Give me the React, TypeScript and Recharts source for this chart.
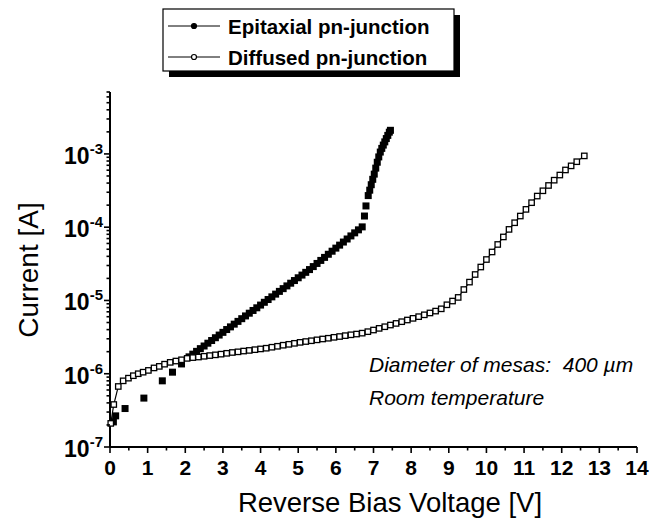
import { ScatterChart, Scatter, XAxis, YAxis } from "recharts";

// Epitaxial pn-junction (filled squares)
const epiVoltage = [
  0.09, 0.15, 0.4, 0.9, 1.39, 1.66, 1.9,
  2.1, 2.2, 2.3, 2.4, 2.5, 2.6, 2.7, 2.8, 2.9, 3.0,
  3.1, 3.2, 3.3, 3.4, 3.5, 3.6, 3.7, 3.8, 3.9, 4.0,
  4.1, 4.2, 4.3, 4.4, 4.5, 4.6, 4.7, 4.8, 4.9, 5.0,
  5.1, 5.2, 5.3, 5.4, 5.5, 5.6, 5.7, 5.8, 5.9, 6.0,
  6.1, 6.2, 6.3, 6.4, 6.5, 6.6, 6.7,
  6.76, 6.8, 6.86, 6.9, 6.94, 6.98, 7.02, 7.06, 7.1, 7.14,
  7.18, 7.22, 7.26, 7.3, 7.34, 7.38, 7.42, 7.45,
];
const epiCurrent = [
  2.2e-7, 2.66e-7, 3.35e-7, 4.65e-7, 8.0e-7, 1.05e-6, 1.36e-6,
  1.7e-6, 1.85e-6, 2.02e-6, 2.2e-6, 2.39e-6, 2.61e-6, 2.84e-6, 3.1e-6, 3.37e-6, 3.67e-6,
  4.01e-6, 4.36e-6, 4.75e-6, 5.18e-6, 5.64e-6, 6.15e-6, 6.7e-6, 7.3e-6, 7.94e-6, 8.65e-6,
  9.44e-6, 1.03e-5, 1.12e-5, 1.22e-5, 1.33e-5, 1.45e-5, 1.58e-5, 1.72e-5, 1.87e-5, 2.04e-5,
  2.22e-5, 2.42e-5, 2.64e-5, 2.9e-5, 3.2e-5, 3.52e-5, 3.87e-5, 4.27e-5, 4.7e-5, 5.18e-5,
  5.69e-5, 6.27e-5, 6.9e-5, 7.6e-5, 8.37e-5, 9.2e-5, 1.01e-4,
  1.42e-4, 1.95e-4, 2.7e-4, 3.2e-4, 3.8e-4, 4.5e-4, 5.3e-4, 6.4e-4, 7.7e-4, 9.1e-4,
  1.06e-3, 1.19e-3, 1.32e-3, 1.46e-3, 1.62e-3, 1.79e-3, 1.98e-3, 2.1e-3,
];

// Diffused pn-junction (open squares with line)
const difVoltage = [
  0.02, 0.1, 0.22, 0.35, 0.49, 0.62, 0.75, 0.88, 1.02, 1.17, 1.31,
  1.45, 1.6, 1.75, 1.9, 2.05, 2.2, 2.35, 2.5, 2.65, 2.8, 2.95, 3.1, 3.25,
  3.4, 3.55, 3.7, 3.85, 4.0, 4.15, 4.3, 4.45, 4.6, 4.75, 4.9, 5.05,
  5.2, 5.35, 5.5, 5.65, 5.8, 5.95, 6.1, 6.25, 6.4, 6.55, 6.7, 6.85,
  7.0, 7.15, 7.3, 7.45, 7.6, 7.75, 7.9, 8.05, 8.2, 8.35, 8.5, 8.65,
  8.8, 8.95, 9.1, 9.25, 9.4, 9.55, 9.7, 9.85, 10.0, 10.15, 10.3, 10.45,
  10.6, 10.75, 10.9, 11.05, 11.2, 11.35, 11.5, 11.65, 11.8, 11.95, 12.1,
  12.25, 12.4, 12.6,
];
const difCurrent = [
  2.1e-7, 3.8e-7, 6.7e-7, 8.0e-7, 8.7e-7, 9.4e-7, 1.0e-6, 1.05e-6, 1.11e-6, 1.2e-6, 1.26e-6,
  1.35e-6, 1.43e-6, 1.49e-6, 1.55e-6, 1.62e-6, 1.66e-6, 1.69e-6, 1.73e-6, 1.77e-6, 1.81e-6, 1.85e-6, 1.9e-6, 1.95e-6,
  1.99e-6, 2.04e-6, 2.08e-6, 2.13e-6, 2.18e-6, 2.23e-6, 2.3e-6, 2.37e-6, 2.45e-6, 2.52e-6, 2.6e-6, 2.68e-6,
  2.75e-6, 2.82e-6, 2.9e-6, 2.98e-6, 3.05e-6, 3.14e-6, 3.22e-6, 3.31e-6, 3.4e-6, 3.48e-6, 3.58e-6, 3.75e-6,
  3.95e-6, 4.16e-6, 4.38e-6, 4.62e-6, 4.86e-6, 5.13e-6, 5.41e-6, 5.7e-6, 6.01e-6, 6.37e-6, 6.75e-6, 7.16e-6,
  7.69e-6, 8.73e-6, 9.82e-6, 1.1e-5, 1.41e-5, 1.78e-5, 2.26e-5, 2.86e-5, 3.62e-5, 4.59e-5, 5.81e-5, 7.36e-5,
  9.33e-5, 1.15e-4, 1.42e-4, 1.75e-4, 2.16e-4, 2.66e-4, 3.14e-4, 3.71e-4, 4.38e-4, 5.15e-4, 6.04e-4,
  6.87e-4, 7.83e-4, 9.4e-4,
];

const seriesNames = ["Epitaxial pn-junction", "Diffused pn-junction"];
const voltageTicks = [0, 1, 2, 3, 4, 5, 6, 7, 8, 9, 10, 11, 12, 13, 14];
const currentDecades = [1e-7, 1e-6, 1e-5, 1e-4, 1e-3];
const notes = ["Diameter of mesas:  400 \u00b5m", "Room temperature"];

const FONT = "'Liberation Sans', Arial, Helvetica, sans-serif";

const epiData = epiVoltage.map((v, i) => ({ x: v, y: epiCurrent[i] }));
const difData = difVoltage.map((v, i) => ({ x: v, y: difCurrent[i] }));

const xTicks = [...voltageTicks, ...voltageTicks.slice(0, -1).map((v) => v + 0.5)].sort((a, b) => a - b);
const yTicks = [
  ...currentDecades,
  ...currentDecades.flatMap((d) => [2, 3, 4, 5, 6, 7, 8, 9].map((m) => m * d)).filter((v) => v <= 7e-3),
];

const isMajorY = (v: number) => currentDecades.some((d) => Math.abs(v - d) < d * 1e-6);

function VoltageTick({ x, y, payload }: any) {
  const v = payload.value;
  const major = Number.isInteger(v);
  return (
    <g>
      <line x1={x} x2={x} y1={y} y2={y + (major ? 6 : 3.5)} stroke="#000" strokeWidth={1.6} />
      {major && (
        <text x={x} y={y + 28} textAnchor="middle" fontSize={21} fontWeight="bold" fontFamily={FONT} fill="#000">
          {v}
        </text>
      )}
    </g>
  );
}

function CurrentTick({ x, y, payload }: any) {
  const v = payload.value;
  const major = isMajorY(v);
  const exp = Math.round(Math.log10(v));
  return (
    <g>
      <line x1={x} x2={x - (major ? 6 : 3.5)} y1={y} y2={y} stroke="#000" strokeWidth={1.6} />
      {major && (
        <text x={x - 7} y={y + 10} textAnchor="end" fontSize={23} fontWeight="bold" fontFamily={FONT} fill="#000">
          <tspan>10</tspan>
          <tspan dy={-10} fontSize={15}>{exp}</tspan>
        </text>
      )}
    </g>
  );
}

const FilledSquare = (p: any) => <rect x={p.cx - 3.5} y={p.cy - 3.5} width={7} height={7} fill="#000" />;
const OpenSquare = (p: any) => (
  <rect x={p.cx - 2.7} y={p.cy - 2.7} width={5.4} height={5.4} fill="#fff" stroke="#000" strokeWidth={1.3} />
);

export default function App() {
  return (
    <div style={{ position: "absolute", left: 0, top: 0, width: 653, height: 522, background: "#fff" }}>
      <ScatterChart width={653} height={522} margin={{ top: 92, right: 16, bottom: 15, left: 0 }}>
        <XAxis
          type="number"
          dataKey="x"
          domain={[0, 14]}
          ticks={xTicks}
          interval={0}
          height={60}
          tickSize={0}
          tickMargin={0}
          tickLine={false}
          axisLine={{ stroke: "#000", strokeWidth: 2 }}
          tick={<VoltageTick />}
        />
        <YAxis
          type="number"
          dataKey="y"
          scale="log"
          domain={[1e-7, 7e-3]}
          allowDataOverflow
          ticks={yTicks}
          interval={0}
          width={110}
          tickSize={0}
          tickMargin={0}
          tickLine={false}
          axisLine={{ stroke: "#000", strokeWidth: 2 }}
          tick={<CurrentTick />}
        />
        <Scatter name={seriesNames[0]} data={epiData} fill="#000" shape={FilledSquare} isAnimationActive={false} />
        <Scatter
          name={seriesNames[1]}
          data={difData}
          fill="#fff"
          line={{ stroke: "#000", strokeWidth: 1.2 }}
          lineType="joint"
          shape={OpenSquare}
          isAnimationActive={false}
        />

        {/* axis titles */}
        <text x={390} y={512} textAnchor="middle" fontSize={27.5} fontFamily={FONT} fill="#000">
          Reverse Bias Voltage [V]
        </text>
        <text
          x={38}
          y={270}
          textAnchor="middle"
          fontSize={28}
          fontFamily={FONT}
          fill="#000"
          transform="rotate(-90, 38, 270)"
        >
          Current [A]
        </text>

        {/* notes */}
        {notes.map((n, i) => (
          <text
            key={n}
            x={369}
            y={372 + i * 33}
            fontSize={21}
            fontStyle="italic"
            fontFamily={FONT}
            fill="#000"
            style={{ whiteSpace: "pre" }}
          >
            {n}
          </text>
        ))}

        {/* legend */}
        <rect x={169} y={15} width={291} height={62} fill="#000" />
        <rect x={163} y={9} width={291} height={62} fill="#fff" stroke="#000" strokeWidth={1.2} />
        {seriesNames.map((n, i) => {
          const ly = 26 + i * 31;
          return (
            <g key={n}>
              <line x1={168} x2={220} y1={ly} y2={ly} stroke="#000" strokeWidth={1} />
              <circle
                cx={194}
                cy={ly}
                r={2.5}
                fill={i === 0 ? "#000" : "#fff"}
                stroke="#000"
                strokeWidth={1.2}
              />
              <text x={228} y={ly + 8} fontSize={20.5} fontWeight="bold" fontFamily={FONT} fill="#000">
                {n}
              </text>
            </g>
          );
        })}
      </ScatterChart>
    </div>
  );
}
